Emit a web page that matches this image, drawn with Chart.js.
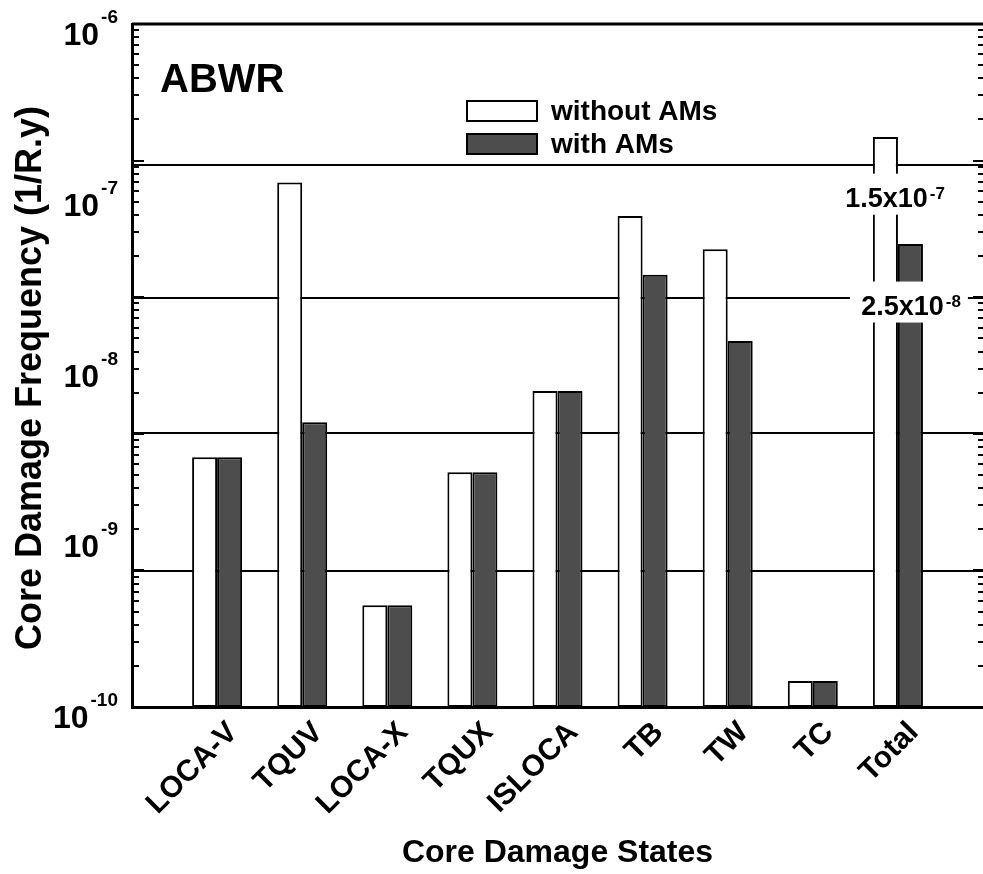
<!DOCTYPE html>
<html>
<head>
<meta charset="utf-8">
<title>ABWR core damage frequency</title>
<script src="https://cdn.jsdelivr.net/npm/chart.js"></script>
<style>
  body { margin: 0; background: #fff; }
  #wrap { width: 983px; height: 874px; }
</style>
</head>
<body>
<div id="wrap"><canvas id="cdfChart"></canvas></div>
<script>
// core damage states on the x axis
const states = ['LOCA-V', 'TQUV', 'LOCA-X', 'TQUX', 'ISLOCA', 'TB', 'TW', 'TC', 'Total'];
// core damage frequency (1/R.y)
const withoutAMs = [2.9e-9, 1.18e-7, 3.95e-10, 2.37e-9, 7.1e-9, 7.5e-8, 4.8e-8, 1.42e-10, 2.18e-7];
const withAMs    = [2.9e-9, 4.65e-9, 3.95e-10, 2.37e-9, 7.1e-9, 3.4e-8, 1.39e-8, 1.42e-10, 5.15e-8];
// horizontal reference lines
const refLines = [1.5e-7, 2.5e-8, 4e-9, 6.3e-10];
// y axis decade labels (exponents of 10)
const decades = [-6, -7, -8, -9, -10];
// notes next to the Total bars
const noteValues = [1.5e-7, 2.5e-8];
const noteMant = ['1.5x10', '2.5x10'];
const noteExp = ['-7', '-8'];

const FONT = '"Liberation Sans", Arial, sans-serif';
const DARK = '#4d4d4d';

// draws "base" with a raised exponent, right edge at xRight
function drawPow(ctx, base, exp, xRight, baseline, size, supSize, rise) {
  ctx.font = 'bold ' + supSize + 'px ' + FONT;
  const we = ctx.measureText(exp).width;
  ctx.font = 'bold ' + size + 'px ' + FONT;
  const wb = ctx.measureText(base).width;
  ctx.textAlign = 'left';
  ctx.textBaseline = 'alphabetic';
  ctx.fillText(base, xRight - we - wb - 2, baseline);
  ctx.font = 'bold ' + supSize + 'px ' + FONT;
  ctx.fillText(exp, xRight - we, baseline - rise);
}

const decor = {
  id: 'decor',
  beforeDatasetsDraw(chart) {
    const { ctx, chartArea: a, scales: { y } } = chart;
    ctx.save();
    ctx.strokeStyle = '#000';
    ctx.lineWidth = 2;
    refLines.forEach(v => {
      const py = Math.round(y.getPixelForValue(v));
      ctx.beginPath();
      ctx.moveTo(a.left, py);
      ctx.lineTo(a.right, py);
      ctx.stroke();
    });
    ctx.restore();
  },
  afterDraw(chart) {
    const { ctx, chartArea: a, scales: { x, y } } = chart;
    ctx.save();
    ctx.fillStyle = '#000';
    ctx.strokeStyle = '#000';

    // top frame line
    ctx.lineWidth = 3;
    ctx.beginPath();
    ctx.moveTo(a.left, a.top);
    ctx.lineTo(a.right, a.top);
    ctx.stroke();

    // log minor ticks, inside on both sides
    ctx.lineWidth = 2;
    for (let k = 0; k < 5; k++) {
      for (let m = 1; m <= 9; m++) {
        const py = Math.round(y.getPixelForValue(Math.pow(10, -10 + 0.8 * (k + Math.log10(m)))));
        const len = m === 1 ? 12 : 7;
        ctx.beginPath();
        ctx.moveTo(a.left, py); ctx.lineTo(a.left + len, py);
        ctx.moveTo(a.right, py); ctx.lineTo(a.right - (len - 2), py);
        ctx.stroke();
      }
    }

    // y decade labels
    decades.forEach(e => {
      const py = y.getPixelForValue(Math.pow(10, e));
      drawPow(ctx, '10', String(e), a.left - 14, py + 21, 32, 19, 22);
    });

    // notes by the Total bars
    const tx = x.getPixelForValue(states.length);
    noteValues.forEach((v, i) => {
      const py = y.getPixelForValue(v);
      const top = i === 0 ? py + 9 : py - 16;
      const base = i === 0 ? py + 42 : py + 17;
      const cx = i === 0 ? tx - 6 : tx + 10;
      ctx.fillStyle = '#fff';
      ctx.fillRect(cx - 58, top, 118, 41);
      ctx.fillStyle = '#000';
      drawPow(ctx, noteMant[i], noteExp[i], cx + 53, base, 27, 17, 8);
    });

    // legend
    const lx = a.left + 335;
    [['without AMs', '#fff'], ['with AMs', DARK]].forEach((it, i) => {
      const ty = 101 + i * 33;
      ctx.fillStyle = it[1];
      ctx.fillRect(lx, ty, 70, 20);
      ctx.lineWidth = 2;
      ctx.strokeRect(lx, ty, 70, 20);
      ctx.fillStyle = '#000';
      ctx.font = 'bold 28px ' + FONT;
      ctx.textAlign = 'left';
      ctx.textBaseline = 'alphabetic';
      ctx.fillText(it[0], lx + 84, ty + 19);
    });

    // panel label
    ctx.font = 'bold 40px ' + FONT;
    ctx.fillText('ABWR', a.left + 28, 92);

    // axis titles
    ctx.font = 'bold 32px ' + FONT;
    ctx.textAlign = 'center';
    ctx.fillText('Core Damage States', (a.left + a.right) / 2, 862);
    ctx.save();
    ctx.translate(41, 378);
    ctx.rotate(-Math.PI / 2);
    ctx.font = 'bold 36px ' + FONT;
    ctx.fillText('Core Damage Frequency (1/R.y)', 0, 0);
    ctx.restore();

    ctx.restore();
  }
};

new Chart(document.getElementById('cdfChart'), {
  type: 'bar',
  data: {
    // empty slots at both ends keep the axis running 0..10
    labels: [''].concat(states, ['']),
    datasets: [
      {
        label: 'without AMs',
        data: [null].concat(withoutAMs, [null]),
        backgroundColor: '#fff',
        borderColor: '#000',
        borderWidth: 2,
        borderSkipped: false
      },
      {
        label: 'with AMs',
        data: [null].concat(withAMs, [null]),
        backgroundColor: DARK,
        borderColor: '#000',
        borderWidth: 2,
        borderSkipped: false
      }
    ]
  },
  options: {
    responsive: true,
    maintainAspectRatio: false,
    animation: false,
    layout: { padding: { top: 24, right: 0, left: 0, bottom: 0 } },
    datasets: { bar: { categoryPercentage: 0.5875, barPercentage: 1 } },
    plugins: { legend: { display: false }, tooltip: { enabled: false } },
    scales: {
      x: {
        type: 'category',
        offset: false,
        grid: { display: false, drawTicks: false },
        border: { display: true, color: '#000', width: 3 },
        ticks: {
          autoSkip: false,
          minRotation: 45,
          maxRotation: 45,
          color: '#000',
          padding: 8,
          labelOffset: 16,
          font: { family: FONT, size: 30, weight: 'bold' }
        },
        afterFit(s) { s.height = 167; s.paddingLeft = 0; s.paddingRight = 0; }
      },
      y: {
        type: 'logarithmic',
        min: 1e-10,
        max: 1e-6,
        grid: { display: false },
        border: { display: true, color: '#000', width: 3 },
        ticks: { display: false },
        afterFit(s) { s.width = 132; }
      }
    }
  },
  plugins: [decor]
});
</script>
</body>
</html>
